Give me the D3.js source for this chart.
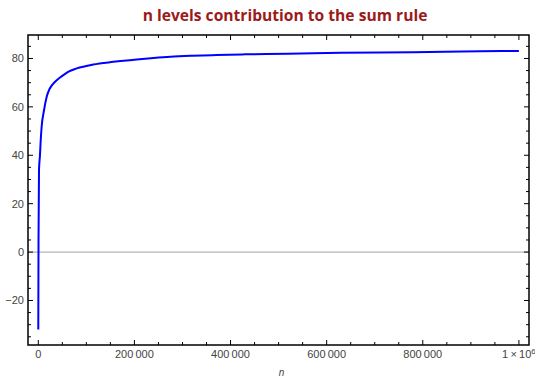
<!DOCTYPE html>
<html><head><meta charset="utf-8">
<script src="https://cdn.jsdelivr.net/npm/d3@7"></script>
<style>body{margin:0;background:#fff}svg{display:block}</style>
</head><body>
<svg id="c" width="535" height="379"></svg>
<script>
const title = "n levels contribution to the sum rule";
const nValues = [1,500,1500,3500,5000,7000,12000,17500,24000,35000,49000,62000,80000,114000,156000,205000,240000,275000,320000,370000,430000,520000,630000,780000,920000,1000000];
const sumValues = [-32,5.6,34,40,46,51.8,58.7,64.2,67.6,70.4,72.7,74.5,75.9,77.5,78.6,79.6,80.2,80.7,81.1,81.4,81.7,82.0,82.4,82.6,83.0,83.1];
const xMajorTicks = [0,200000,400000,600000,800000,1000000];
const xTickLabels = ["0","200\u2009000","400\u2009000","600\u2009000","800\u2009000",null];
const yMajorTicks = [-20,0,20,40,60,80];
const yTickLabels = ["\u221220","0","20","40","60","80"];

const svg = d3.select("#c");
const L=28, R=529, T=35, B=345;
const x = d3.scaleLinear().domain([-21400,1021000]).range([L,R]);
const y = d3.scaleLinear().domain([-38.4,89.7]).range([B,T]);

// zero line
svg.append("line").attr("x1",L).attr("x2",R).attr("y1",y(0)).attr("y2",y(0))
  .attr("stroke","#a0a0a0").attr("stroke-width",1);

// curve
const data = nValues.map((n,i)=>[n,sumValues[i]]);
svg.append("path").datum(data)
  .attr("d", d3.line().x(d=>x(d[0])).y(d=>y(d[1])).curve(d3.curveMonotoneX))
  .attr("fill","none").attr("stroke","#0000ff").attr("stroke-width",2);

// frame
svg.append("rect").attr("x",L).attr("y",T).attr("width",R-L).attr("height",B-T)
  .attr("fill","none").attr("stroke","#000").attr("stroke-width",1.5);

const xMinor = d3.range(0,1000001,50000).filter(v=>!xMajorTicks.includes(v));
const yMinor = d3.range(-35,90,5).filter(v=>!yMajorTicks.includes(v));
const tk = svg.append("g").attr("stroke","#000").attr("stroke-width",1);
// bottom/top
xMajorTicks.forEach(v=>{
  tk.append("line").attr("x1",x(v)).attr("x2",x(v)).attr("y1",B).attr("y2",B-5);
  tk.append("line").attr("x1",x(v)).attr("x2",x(v)).attr("y1",T).attr("y2",T+5);
});
xMinor.forEach(v=>{
  tk.append("line").attr("x1",x(v)).attr("x2",x(v)).attr("y1",B).attr("y2",B-3);
  tk.append("line").attr("x1",x(v)).attr("x2",x(v)).attr("y1",T).attr("y2",T+3);
});
yMajorTicks.forEach(v=>{
  tk.append("line").attr("y1",y(v)).attr("y2",y(v)).attr("x1",L).attr("x2",L+5);
  tk.append("line").attr("y1",y(v)).attr("y2",y(v)).attr("x1",R).attr("x2",R-5);
});
yMinor.forEach(v=>{
  tk.append("line").attr("y1",y(v)).attr("y2",y(v)).attr("x1",L).attr("x2",L+3);
  tk.append("line").attr("y1",y(v)).attr("y2",y(v)).attr("x1",R).attr("x2",R-3);
});

const lab = svg.append("g").attr("font-family","'Liberation Sans', Arial, sans-serif")
  .attr("font-size",11).attr("fill","#444");
xMajorTicks.forEach((v,i)=>{
  if (xTickLabels[i]!==null)
    lab.append("text").attr("x",x(v)).attr("y",358).attr("text-anchor","middle").text(xTickLabels[i]);
});
const big = lab.append("text").attr("x",x(1000000)).attr("y",358).attr("text-anchor","middle");
big.append("tspan").text("1\u202f\u00d7\u202f10");
big.append("tspan").attr("dy",-4).attr("font-size",8).text("6");
yMajorTicks.forEach((v,i)=>{
  lab.append("text").attr("x",24).attr("y",y(v)).attr("dy","0.35em").attr("text-anchor","end").text(yTickLabels[i]);
});
lab.append("text").attr("x",x(1000000)/2+x(0)/2+3).attr("y",376).attr("text-anchor","middle")
  .attr("font-style","italic").attr("font-size",10).text("n");

// title
const t = svg.append("text").attr("x",285).attr("y",21).attr("text-anchor","middle")
  .attr("font-family","'Open Sans', sans-serif").attr("font-weight","bold")
  .attr("font-size",16).attr("fill","#9b1b1b").text(title);
const w = t.node().getComputedTextLength();
t.attr("font-size", 16*285/w);
</script>
</body></html>
